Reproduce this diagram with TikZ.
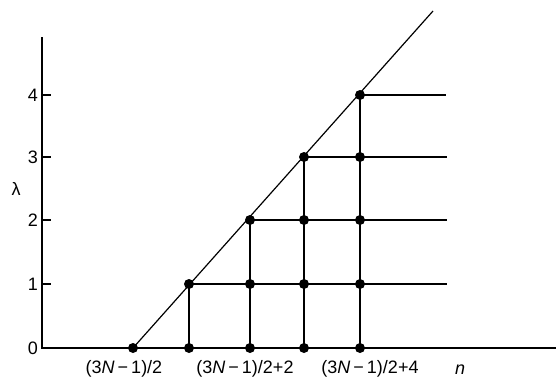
\documentclass[tikz,border=0pt]{standalone}
\usepackage{fontspec}
\setmainfont{Liberation Sans}
\begin{document}
\begin{tikzpicture}[x=1pt,y=-1pt,
  dot/.style={circle,fill=black,inner sep=0pt,minimum size=10pt},
  lbl/.style={inner sep=0pt,font=\fontsize{18}{21}\selectfont},
  ln/.style={line width=1.2pt}]
\useasboundingbox (0,0) rectangle (556,380);
% axes
\coordinate (ytop) at (42,37);
\coordinate (org) at (42,348);
\coordinate (xend) at (556,348);
\draw[ln] (ytop) -- (org) -- (xend);
% ticks and tick labels
\foreach \v/\y in {0/348,1/284,2/220,3/157,4/95}{
  \coordinate (t\v) at (42,\y);
  \coordinate (tt\v) at (51,\y);
  \draw[ln] (t\v) -- (tt\v);
  \node[lbl] (yl\v) at (33,\y) {\v};
}
\node[lbl] (lam) at (16,189) {λ};
% dots
\node[dot] (d00) at (133,348) {};
\node[dot] (d10) at (189,348) {};
\node[dot] (d11) at (189,284) {};
\node[dot] (d20) at (250,348) {};
\node[dot] (d21) at (250,284) {};
\node[dot] (d22) at (250,220) {};
\node[dot] (d30) at (304,348) {};
\node[dot] (d31) at (304,284) {};
\node[dot] (d32) at (304,220) {};
\node[dot] (d33) at (304,157) {};
\node[dot] (d40) at (360,348) {};
\node[dot] (d41) at (360,284) {};
\node[dot] (d42) at (360,220) {};
\node[dot] (d43) at (360,157) {};
\node[dot] (d44) at (360,95) {};
% diagonal
\coordinate (dtop) at (433,11);
\draw[ln] (d00.center) -- (dtop);
% horizontals
\coordinate (h1) at (447,284);
\coordinate (h2) at (447,220);
\coordinate (h3) at (447,157);
\coordinate (h4) at (446,95);
\draw[ln] (d11.center) -- (h1);
\draw[ln] (d22.center) -- (h2);
\draw[ln] (d33.center) -- (h3);
\draw[ln] (d44.center) -- (h4);
% verticals
\draw[ln] (d11.center) -- (d10.center);
\draw[ln] (d22.center) -- (d20.center);
\draw[ln] (d33.center) -- (d30.center);
\draw[ln] (d44.center) -- (d40.center);
% bottom labels
\node[lbl] (xl0) at (124,369) {(3\textit{N}\,−\,1)/2};
\node[lbl] (xl2) at (245,369) {(3\textit{N}\,−\,1)/2+2};
\node[lbl] (xl4) at (370,369) {(3\textit{N}\,−\,1)/2+4};
\node[lbl] (xn) at (460,370) {\textit{n}};
\end{tikzpicture}
\end{document}
